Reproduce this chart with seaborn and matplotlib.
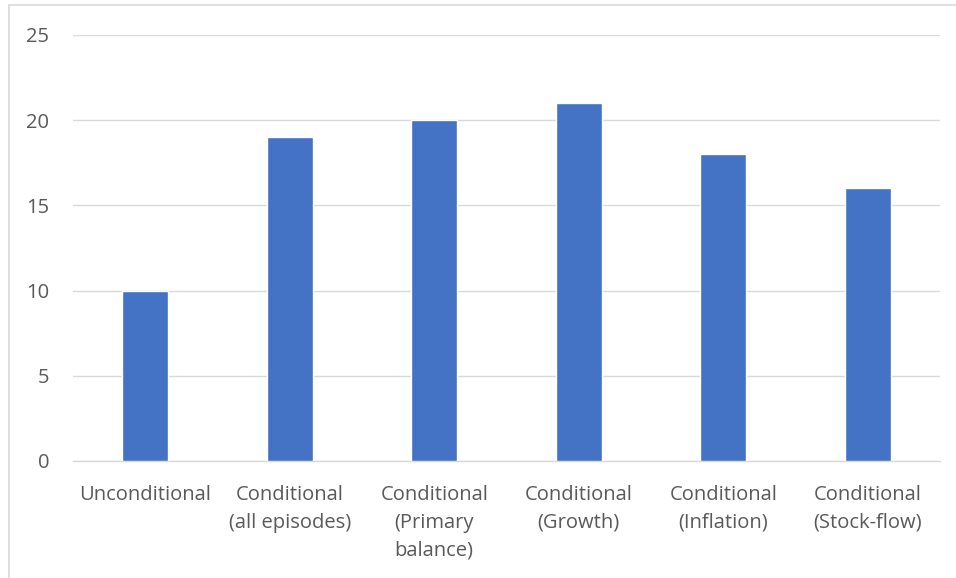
import matplotlib
matplotlib.use("Agg")
import matplotlib.pyplot as plt
import seaborn as sns
import pandas as pd
from matplotlib.lines import Line2D

categories = ["Unconditional", "Conditional\n(all episodes)", "Conditional\n(Primary\nbalance)",
              "Conditional\n(Growth)", "Conditional\n(Inflation)", "Conditional\n(Stock-flow)"]
values = [10, 19, 20, 21, 18, 16]
yticks = [0, 5, 10, 15, 20, 25]

df = pd.DataFrame({"cat": categories, "val": values})

sns.set_theme(style="white")
plt.rcParams['font.family'] = ['Open Sans', 'DejaVu Sans']

fig = plt.figure(figsize=(9.56, 5.78), dpi=100)
ax = fig.add_axes([73/956, 1-461/578, (940-73)/956, (461-35)/578])
sns.barplot(data=df, x="cat", y="val", color="#4472C4", width=0.32, saturation=1, ax=ax, zorder=3)
ax.set_ylim(0, 25)
ax.set_yticks(yticks)
ax.set_yticklabels([str(t) for t in yticks])
ax.set_xlabel("")
ax.set_ylabel("")
ax.grid(axis="y", color="#D9D9D9", linewidth=1, zorder=0)
for s in ["left", "right", "top"]:
    ax.spines[s].set_visible(False)
ax.spines["bottom"].set_color("#D9D9D9")
ax.spines["bottom"].set_linewidth(1)
ax.tick_params(axis="both", length=0, colors="#595959", labelsize=14.5)
ax.tick_params(axis="x", pad=17)
ax.tick_params(axis="y", pad=17)
for lbl in ax.get_xticklabels():
    lbl.set_linespacing(1.53)
for lbl in ax.get_yticklabels():
    lbl.set_horizontalalignment("right")

# chart border
fig.add_artist(Line2D([9/956, 9/956], [0, 1-5/578], color="#D9D9D9", linewidth=1.2))
fig.add_artist(Line2D([9/956, 1], [1-5/578, 1-5/578], color="#D9D9D9", linewidth=1.2))

fig.savefig("out.png", dpi=100)
